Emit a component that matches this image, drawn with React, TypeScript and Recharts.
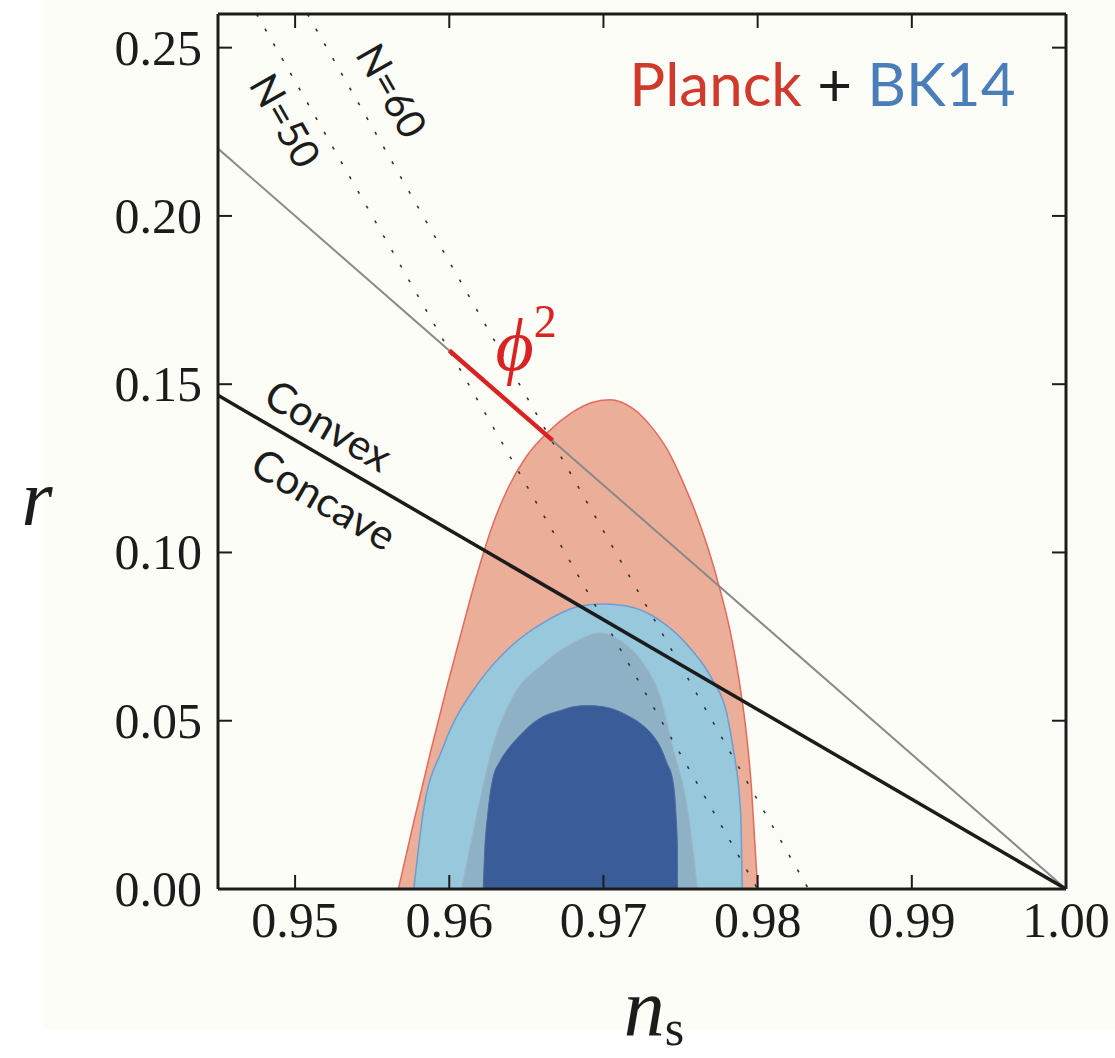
import {
  ComposedChart,
  Area,
  Line,
  XAxis,
  YAxis,
  ReferenceLine,
  ReferenceDot,
} from "recharts";

// layout of the figure (pixels)
const W = 1115;
const H = 1058;
const PLOT_LEFT = 218;
const PLOT_RIGHT = 1066;
const PLOT_TOP = 14;
const PLOT_BOTTOM = 889;
const Y_AXIS_W = 200;
const X_AXIS_H = 100;
const TICK_LEN = 14;

const INK = "#1c1c1c";
const CREAM = "#fcfdf6";
const SERIF = "'Liberation Serif', 'DejaVu Serif', serif";
const SANS = "Lato, 'Open Sans', sans-serif";

// axes
const NS_DOMAIN: [number, number] = [0.945, 1.0];
const R_DOMAIN: [number, number] = [0, 0.26];
const NS_TICKS = [0.95, 0.96, 0.97, 0.98, 0.99, 1.0];
const R_TICKS = [0, 0.05, 0.1, 0.15, 0.2, 0.25];

type Pt = { ns: number; r: number };
const pts = (a: number[][]): Pt[] => a.map(([ns, r]) => ({ ns, r }));

// contour outlines (upper edge, all regions sit on r = 0)
const planck95 = pts([
  [0.9567, 0], [0.9577, 0.02], [0.9588, 0.041], [0.9599, 0.061],
  [0.961, 0.08], [0.9619, 0.095], [0.9628, 0.108], [0.9638, 0.119],
  [0.965, 0.1285], [0.9664, 0.1358], [0.9679, 0.1414], [0.9692, 0.1445],
  [0.9704, 0.1454], [0.9719, 0.1428], [0.9732, 0.1368], [0.9741, 0.1309],
  [0.9751, 0.1215], [0.976, 0.1115], [0.9768, 0.101], [0.9775, 0.09],
  [0.9782, 0.077], [0.9788, 0.062], [0.9793, 0.045], [0.9796, 0.03],
  [0.9798, 0.015], [0.98, 0],
]);

const bk14_95 = pts([
  [0.9577, 0], [0.9583, 0.0225], [0.9596, 0.0421], [0.962, 0.0619],
  [0.9639, 0.0717], [0.9663, 0.0797], [0.9685, 0.0841], [0.97, 0.0847],
  [0.9715, 0.0841], [0.9737, 0.0797], [0.9756, 0.0717], [0.9771, 0.0619],
  [0.978, 0.0521], [0.9784, 0.0421], [0.9789, 0.0225], [0.979, 0],
]);

const planck68 = pts([
  [0.9608, 0], [0.9618, 0.0225], [0.9628, 0.0421], [0.9641, 0.0569],
  [0.9661, 0.0669], [0.9683, 0.0738], [0.9698, 0.0761], [0.9711, 0.0738],
  [0.9726, 0.0669], [0.9737, 0.0569], [0.9745, 0.0421], [0.9755, 0.0225],
  [0.9761, 0],
]);

const bk14_68 = pts([
  [0.9622, 0], [0.9623, 0.0115], [0.9625, 0.0225], [0.9628, 0.0323],
  [0.9633, 0.038], [0.9639, 0.0421], [0.9646, 0.0457], [0.9654, 0.0492],
  [0.9662, 0.0515], [0.9672, 0.053], [0.9681, 0.0542], [0.969, 0.0545],
  [0.9699, 0.0542], [0.9709, 0.053], [0.9717, 0.0512], [0.9724, 0.0492],
  [0.9731, 0.0462], [0.9737, 0.0421], [0.9741, 0.0376], [0.9745, 0.0323],
  [0.9747, 0.0225], [0.9748, 0.0115], [0.9748, 0],
]);

// model lines
const phi2Line = pts([[0.945, 0.22], [1.0, 0]]);
const convexLine = pts([[0.945, 0.1467], [1.0, 0]]);
const phi2Segment = pts([[0.96, 0.16], [0.9667, 0.1333]]);
const n50Line = pts([[0.9475, 0.26], [0.98, 0]]);
const n60Line = pts([[0.9508, 0.26], [0.9833, 0]]);

function XTick({ x, payload }: any) {
  return (
    <g>
      <line x1={x} x2={x} y1={PLOT_BOTTOM} y2={PLOT_BOTTOM - TICK_LEN} stroke={INK} strokeWidth={2} />
      <line x1={x} x2={x} y1={PLOT_TOP} y2={PLOT_TOP + TICK_LEN} stroke={INK} strokeWidth={2} />
      <text x={x} y={PLOT_BOTTOM + 48} textAnchor="middle" fontFamily={SERIF} fontSize={50} fill={INK}>
        {Number(payload.value).toFixed(2)}
      </text>
    </g>
  );
}

function YTick({ y, payload }: any) {
  return (
    <g>
      <line x1={PLOT_LEFT} x2={PLOT_LEFT + TICK_LEN} y1={y} y2={y} stroke={INK} strokeWidth={2} />
      <line x1={PLOT_RIGHT} x2={PLOT_RIGHT - TICK_LEN} y1={y} y2={y} stroke={INK} strokeWidth={2} />
      <text x={PLOT_LEFT - 16} y={y + 17} textAnchor="end" fontFamily={SERIF} fontSize={50} fill={INK}>
        {Number(payload.value).toFixed(2)}
      </text>
    </g>
  );
}

const rotated = (label: string, angle: number, size: number) => (p: any) => (
  <text
    x={p.cx}
    y={p.cy}
    transform={`rotate(${angle} ${p.cx} ${p.cy})`}
    textAnchor="middle"
    dominantBaseline="central"
    fontFamily={SANS}
    fontSize={size}
    fill={INK}
  >
    {label}
  </text>
);

export default function App() {
  return (
    <div style={{ position: "absolute", left: 0, top: 0, width: W, height: H, background: "#fff" }}>
      <div style={{ position: "absolute", left: 43, top: 0, width: W - 43, height: 1030, background: CREAM }} />
      <div style={{ position: "absolute", left: 0, top: 0 }}>
        <ComposedChart
          width={W}
          height={H}
          margin={{
            top: PLOT_TOP,
            right: W - PLOT_RIGHT,
            left: PLOT_LEFT - Y_AXIS_W,
            bottom: H - PLOT_BOTTOM - X_AXIS_H,
          }}
        >
          <Area data={planck95} dataKey="r" type="monotone" fill="#ebae98" fillOpacity={1} stroke="#e36a5c" strokeWidth={1.5} isAnimationActive={false} />
          <Area data={bk14_95} dataKey="r" type="monotone" fill="#97c8db" fillOpacity={1} stroke="#6d9dd3" strokeWidth={1.5} isAnimationActive={false} />
          <Area data={planck68} dataKey="r" type="monotone" fill="#8fb1c5" fillOpacity={1} stroke="#9fb6c8" strokeWidth={1} isAnimationActive={false} />
          <Area data={bk14_68} dataKey="r" type="monotone" fill="#3a5d99" fillOpacity={1} stroke="#4a6aa3" strokeWidth={1} isAnimationActive={false} />

          <Line data={n50Line} dataKey="r" type="linear" stroke="#333" strokeWidth={1.6} strokeDasharray="3 14" dot={false} isAnimationActive={false} />
          <Line data={n60Line} dataKey="r" type="linear" stroke="#333" strokeWidth={1.6} strokeDasharray="3 14" dot={false} isAnimationActive={false} />
          <Line data={phi2Line} dataKey="r" type="linear" stroke="#8a8a8a" strokeWidth={2} dot={false} isAnimationActive={false} />
          <Line data={convexLine} dataKey="r" type="linear" stroke={INK} strokeWidth={3.5} dot={false} isAnimationActive={false} />
          <Line data={phi2Segment} dataKey="r" type="linear" stroke="#d92323" strokeWidth={4.5} dot={false} isAnimationActive={false} />

          <ReferenceLine y={R_DOMAIN[1]} stroke={INK} strokeWidth={3} />
          <ReferenceLine x={NS_DOMAIN[1]} stroke={INK} strokeWidth={3} />

          <ReferenceDot
            x={0.9842}
            y={0.2328}
            r={0}
            shape={(p: any) => (
              <text x={p.cx} y={p.cy} textAnchor="middle" fontFamily={SANS} fontSize={60}>
                <tspan fill="#d0392b">Planck</tspan>
                <tspan fill={INK}> + </tspan>
                <tspan fill="#4a7ebb">BK14</tspan>
              </text>
            )}
          />
          <ReferenceDot
            x={0.963}
            y={0.1543}
            r={0}
            shape={(p: any) => (
              <text x={p.cx} y={p.cy} fontFamily={SERIF} fill="#d92323">
                <tspan fontStyle="italic" fontSize={74}>ϕ</tspan>
                <tspan fontSize={46} dy={-33}>2</tspan>
              </text>
            )}
          />
          <ReferenceDot x={0.9522} y={0.138} r={0} shape={rotated("Convex", 30.3, 42)} />
          <ReferenceDot x={0.9519} y={0.1161} r={0} shape={rotated("Concave", 30.3, 42)} />
          <ReferenceDot x={0.9494} y={0.2284} r={0} shape={rotated("N=50", 60.3, 40)} />
          <ReferenceDot x={0.9563} y={0.2373} r={0} shape={rotated("N=60", 60.3, 40)} />

          <XAxis
            dataKey="ns"
            type="number"
            domain={NS_DOMAIN}
            ticks={NS_TICKS}
            interval={0}
            allowDataOverflow
            height={X_AXIS_H}
            tickLine={false}
            axisLine={{ stroke: INK, strokeWidth: 3 }}
            tick={<XTick />}
            label={{
              content: (p: any) => {
                const vb = p.viewBox;
                return (
                  <text x={vb.x + vb.width / 2 + 12} y={vb.y + 146} textAnchor="middle" fontFamily={SERIF} fill={INK}>
                    <tspan fontStyle="italic" fontSize={82}>n</tspan>
                    <tspan fontSize={50} dy={10}>s</tspan>
                  </text>
                );
              },
            }}
          />
          <YAxis
            dataKey="r"
            type="number"
            domain={R_DOMAIN}
            ticks={R_TICKS}
            interval={0}
            allowDataOverflow
            width={Y_AXIS_W}
            tickLine={false}
            axisLine={{ stroke: INK, strokeWidth: 3 }}
            tick={<YTick />}
            label={{
              content: (p: any) => {
                const vb = p.viewBox;
                return (
                  <text x={vb.x + 19} y={525} textAnchor="middle" fontFamily={SERIF} fontStyle="italic" fontSize={80} fill={INK}>
                    r
                  </text>
                );
              },
            }}
          />
        </ComposedChart>
      </div>
    </div>
  );
}
